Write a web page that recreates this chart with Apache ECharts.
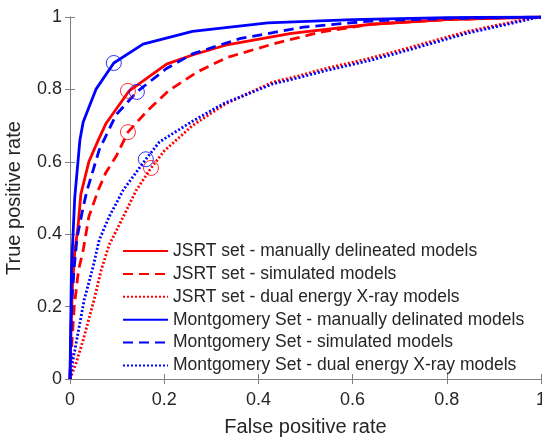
<!DOCTYPE html>
<html>
<head>
<meta charset="utf-8">
<script src="https://cdn.jsdelivr.net/npm/echarts@6/dist/echarts.min.js"></script>
<style>
  html, body { margin: 0; padding: 0; background: #fff; }
  #chart { width: 542px; height: 439px; }
</style>
</head>
<body>
<div id="chart"></div>
<script>
// ROC curves, [false positive rate, true positive rate]
var jsrtManual = [[0,0],[0.002,0.12],[0.005,0.25],[0.01,0.35],[0.017,0.42],[0.023,0.51],[0.04,0.6],[0.06,0.66],[0.076,0.705],[0.125,0.795],[0.205,0.87],[0.26,0.895],[0.33,0.922],[0.47,0.955],[0.64,0.98],[0.8,0.993],[1,1]];
var jsrtSimulated = [[0,0],[0.004,0.1],[0.009,0.2],[0.018,0.3],[0.028,0.356],[0.04,0.448],[0.06,0.522],[0.076,0.57],[0.098,0.615],[0.123,0.682],[0.165,0.742],[0.21,0.797],[0.27,0.848],[0.333,0.888],[0.43,0.925],[0.53,0.958],[0.64,0.98],[0.8,0.993],[1,1]];
var jsrtDual = [[0,0],[0.013,0.044],[0.028,0.108],[0.051,0.218],[0.066,0.3],[0.083,0.37],[0.113,0.448],[0.14,0.52],[0.172,0.583],[0.2,0.63],[0.26,0.7],[0.33,0.76],[0.43,0.82],[0.488,0.838],[0.537,0.856],[0.637,0.886],[0.7,0.908],[0.843,0.96],[0.983,0.998],[1,1]];
var mgManual = [[0,0],[0.003,0.3],[0.01,0.5],[0.021,0.66],[0.028,0.71],[0.055,0.8],[0.093,0.873],[0.155,0.925],[0.26,0.96],[0.42,0.984],[0.6,0.993],[0.8,0.998],[1,1]];
var mgSimulated = [[0,0],[0.002,0.12],[0.004,0.22],[0.009,0.31],[0.015,0.39],[0.028,0.475],[0.036,0.52],[0.062,0.633],[0.098,0.73],[0.142,0.793],[0.204,0.857],[0.26,0.898],[0.36,0.94],[0.495,0.972],[0.64,0.989],[0.8,0.996],[1,1]];
var mgDual = [[0,0],[0.006,0.05],[0.017,0.127],[0.03,0.218],[0.049,0.31],[0.062,0.384],[0.083,0.448],[0.113,0.522],[0.161,0.607],[0.19,0.655],[0.26,0.712],[0.325,0.76],[0.43,0.815],[0.488,0.833],[0.537,0.85],[0.637,0.88],[0.7,0.902],[0.843,0.955],[0.983,0.996],[1,1]];

// operating points (circles)
var jsrtPoints = [[0.123,0.796],[0.123,0.682],[0.172,0.583]];
var mgPoints = [[0.093,0.873],[0.142,0.793],[0.161,0.607]];

var names = [
    'JSRT set - manually delineated models',
    'JSRT set - simulated models',
    'JSRT set - dual energy X-ray models',
    'Montgomery Set - manually delinated models',
    'Montgomery Set - simulated models',
    'Montgomery Set - dual energy X-ray models'
];
var ticks = [0, 0.2, 0.4, 0.6, 0.8, 1];

var RED = '#ff0000', BLUE = '#0000ff';
var TXT = '#262626', AX = '#808080';
var FONT = 'Liberation Sans';

function curve(name, data, color, type) {
    return {
        name: name, type: 'line', data: data, symbol: 'none', smooth: false,
        lineStyle: { color: color, width: 2.8, type: type },
        itemStyle: { color: color },
        z: 3
    };
}
function points(data, color) {
    return {
        type: 'scatter', data: data, symbol: 'circle', symbolSize: 15,
        itemStyle: { color: 'rgba(0,0,0,0)', borderColor: color, borderWidth: 1 },
        z: 4, silent: true
    };
}

var chart = echarts.init(document.getElementById('chart'));
var axisCommon = {
    type: 'value', min: ticks[0], max: ticks[ticks.length - 1], interval: 0.2,
    axisLine: { show: true, lineStyle: { color: AX, width: 1 } },
    axisTick: { show: true, inside: true, length: 5, lineStyle: { color: AX } },
    splitLine: { show: false }
};
var option = {
    animation: false,
    backgroundColor: '#fff',
    textStyle: { fontFamily: FONT },
    grid: { left: 70, right: 1, top: 17, bottom: 60, containLabel: false, outerBoundsMode: 'none' },
    xAxis: [
        Object.assign({}, axisCommon, {
            position: 'bottom',
            name: 'False positive rate', nameLocation: 'middle', nameGap: 38,
            nameTextStyle: { color: TXT, fontSize: 20, fontFamily: FONT },
            axisLabel: { color: TXT, fontSize: 18, fontFamily: FONT, margin: 12 }
        }),
        Object.assign({}, axisCommon, { position: 'top', axisLabel: { show: false } })
    ],
    yAxis: [
        Object.assign({}, axisCommon, {
            position: 'left',
            name: 'True positive rate', nameLocation: 'middle', nameGap: 46,
            nameTextStyle: { color: TXT, fontSize: 20, fontFamily: FONT },
            axisLabel: { color: TXT, fontSize: 18, fontFamily: FONT, margin: 8 }
        }),
        Object.assign({}, axisCommon, { position: 'right', axisLabel: { show: false } })
    ],
    legend: {
        orient: 'vertical', left: 122, top: 242, padding: 0,
        itemWidth: 45, itemHeight: 20, itemGap: 4.9,
        data: names,
        itemStyle: { opacity: 0 },
        textStyle: { color: TXT, fontSize: 17.5, fontFamily: FONT }
    },
    series: [
        curve(names[0], jsrtManual, RED, 'solid'),
        curve(names[1], jsrtSimulated, RED, [10, 6]),
        curve(names[2], jsrtDual, RED, [2, 2]),
        curve(names[3], mgManual, BLUE, 'solid'),
        curve(names[4], mgSimulated, BLUE, [10, 6]),
        curve(names[5], mgDual, BLUE, [2, 2]),
        points(jsrtPoints, RED),
        points(mgPoints, BLUE)
    ]
};
chart.setOption(option);
</script>
</body>
</html>
